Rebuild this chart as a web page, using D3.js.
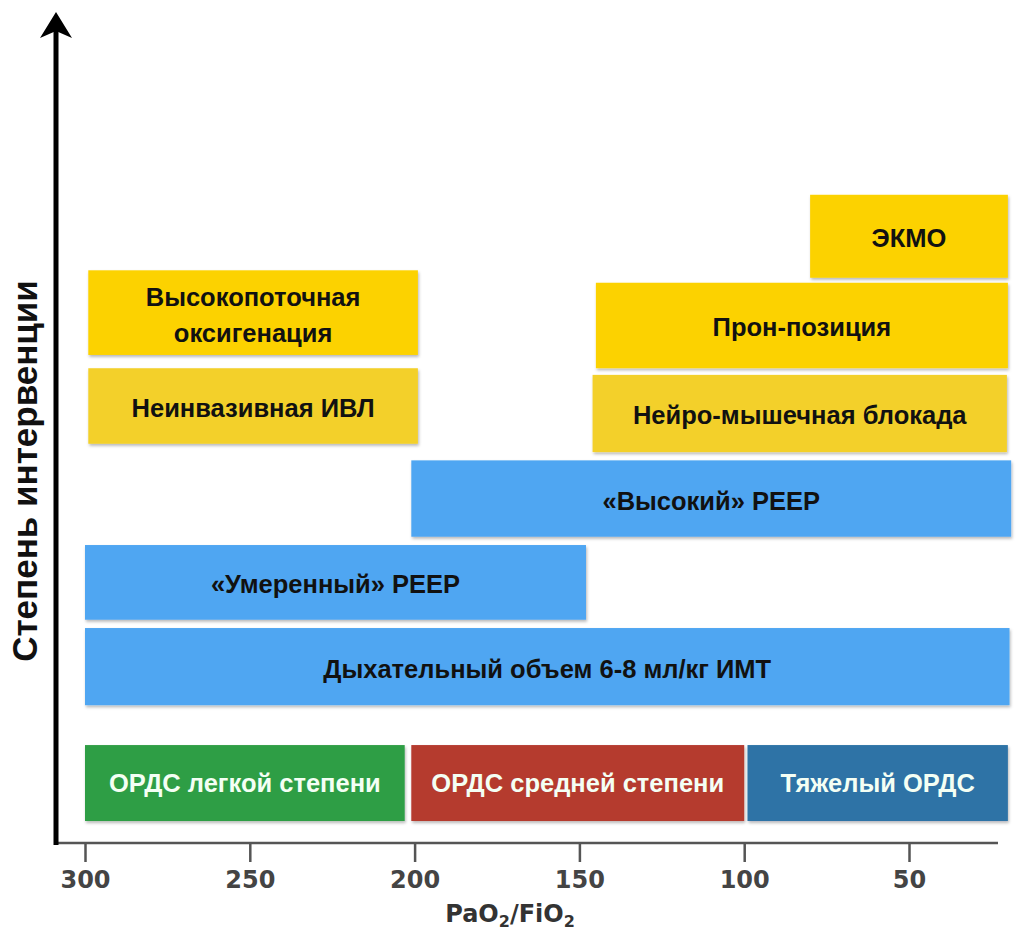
<!DOCTYPE html>
<html><head><meta charset="utf-8">
<script src="https://cdn.jsdelivr.net/npm/d3@7"></script>
<style>html,body{margin:0;padding:0;background:#fff;}</style>
</head><body>
<svg id="chart" width="1021" height="933"></svg>
<script>
// PaO2/FiO2 ticks
const xTicks = [300, 250, 200, 150, 100, 50];
// Severity categories
const severityLabels = ["ОРДС легкой степени", "ОРДС средней степени", "Тяжелый ОРДС"];
const severityFrom = [300, 201, 99];
const severityTo   = [203, 100, 20];
// Interventions
const interventionLabels = [
  ["Дыхательный объем 6-8 мл/кг ИМТ"],
  ["«Умеренный» PEEP"],
  ["«Высокий» PEEP"],
  ["Нейро-мышечная блокада"],
  ["Прон-позиция"],
  ["ЭКМО"],
  ["Неинвазивная ИВЛ"],
  ["Высокопоточная", "оксигенация"]
];
const interventionFrom = [300, 300, 201, 146, 145, 80, 299, 299];
const interventionTo   = [19.5, 148, 19, 20.3, 20, 20, 199, 199];
// intervention level (vertical extent, arbitrary units 0-100)
const levelLow  = [16.6, 26.9, 36.9, 47.1, 57.2, 68.1, 48.1, 58.8];
const levelHigh = [25.9, 35.9, 46.1, 56.4, 67.5, 78.1, 57.2, 69.0];
const interventionKind = ["blue","blue","blue","yellow2","yellow","yellow","yellow2","yellow"];
const severityLevelLow = 2.65, severityLevelHigh = 11.8;

const colors = {
  blue: "#4fa6f2", yellow: "#fcd200", yellow2: "#f3d02a",
  sev: ["#2f9e45", "#b53a2f", "#2e73a6"]
};

const svg = d3.select("#chart");
svg.append("rect").attr("width",1021).attr("height",933).attr("fill","#fff");
const defs = svg.append("defs");
const f = defs.append("filter").attr("id","sh").attr("x","-5%").attr("y","-10%").attr("width","115%").attr("height","130%");
f.append("feDropShadow").attr("dx",1).attr("dy",2).attr("stdDeviation",1.8).attr("flood-color","#000").attr("flood-opacity",0.28);

const x = d3.scaleLinear().domain([300, 50]).range([85, 909]);
const y = d3.scaleLinear().domain([0, 100]).range([843, 13]);

const boxFont = "'Liberation Sans', Arial, sans-serif";

// intervention boxes
interventionLabels.forEach((lines, i) => {
  const x0 = x(interventionFrom[i]), x1 = x(interventionTo[i]);
  const y0 = y(levelHigh[i]), y1 = y(levelLow[i]);
  svg.append("rect").attr("x", x0).attr("y", y0).attr("width", x1 - x0).attr("height", y1 - y0)
    .attr("fill", colors[interventionKind[i]]).attr("filter","url(#sh)");
  const cx = (x0 + x1) / 2, cy = (y0 + y1) / 2;
  const lh = 36;
  lines.forEach((t, j) => {
    svg.append("text").attr("x", cx).attr("y", cy + 2 + (j - (lines.length - 1) / 2) * lh)
      .attr("text-anchor","middle").attr("dominant-baseline","central")
      .attr("font-family", boxFont).attr("font-weight","bold").attr("font-size",25.5)
      .attr("fill","#111").text(t);
  });
});

// severity boxes
severityLabels.forEach((t, i) => {
  const x0 = x(severityFrom[i]), x1 = x(severityTo[i]);
  const y0 = y(severityLevelHigh), y1 = y(severityLevelLow);
  svg.append("rect").attr("x", x0).attr("y", y0).attr("width", x1 - x0).attr("height", y1 - y0)
    .attr("fill", colors.sev[i]).attr("filter","url(#sh)");
  svg.append("text").attr("x",(x0+x1)/2).attr("y",(y0+y1)/2)
    .attr("text-anchor","middle").attr("dominant-baseline","central")
    .attr("font-family", boxFont).attr("font-weight","bold").attr("font-size",25.5)
    .attr("fill","#f4fff4").text(t);
});

// x axis
const axisY = 843;
const xAxis = d3.axisBottom(x).tickValues(xTicks).tickSize(19).tickPadding(9).tickFormat(d3.format("d"));
const gx = svg.append("g").attr("transform",`translate(0,${axisY})`).call(xAxis);
gx.select(".domain").remove();
gx.append("line").attr("x1", 57).attr("x2", x(23)).attr("y1",0).attr("y2",0).attr("stroke","#555").attr("stroke-width",2.5);
gx.selectAll(".tick line").attr("stroke","#555").attr("stroke-width",2.5);
gx.selectAll(".tick text").attr("fill","#444").attr("font-family","'DejaVu Sans', Verdana, sans-serif")
  .attr("font-weight","bold").attr("font-size",24);

// x title
const xt = svg.append("text").attr("x", 510).attr("y", 922).attr("text-anchor","middle")
  .attr("font-family","'DejaVu Sans', Verdana, sans-serif").attr("font-weight","bold").attr("font-size",24).attr("fill","#333");
xt.append("tspan").text("PaO");
xt.append("tspan").attr("font-size",16).attr("dy",5).text("2");
xt.append("tspan").attr("dy",-5).text("/FiO");
xt.append("tspan").attr("font-size",16).attr("dy",5).text("2");

// y axis arrow
svg.append("line").attr("x1",56).attr("x2",56).attr("y1",845).attr("y2",30).attr("stroke","#000").attr("stroke-width",5);
svg.append("path").attr("d", d3.line()([[56,12],[72,38],[56,31],[40,38]])+"Z").attr("fill","#000");

// y title
svg.append("text").attr("transform","translate(37,471) rotate(-90)").attr("text-anchor","middle")
  .attr("font-family", boxFont).attr("font-weight","bold").attr("font-size",35).attr("fill","#111")
  .text("Степень интервенции");
</script>
</body></html>
